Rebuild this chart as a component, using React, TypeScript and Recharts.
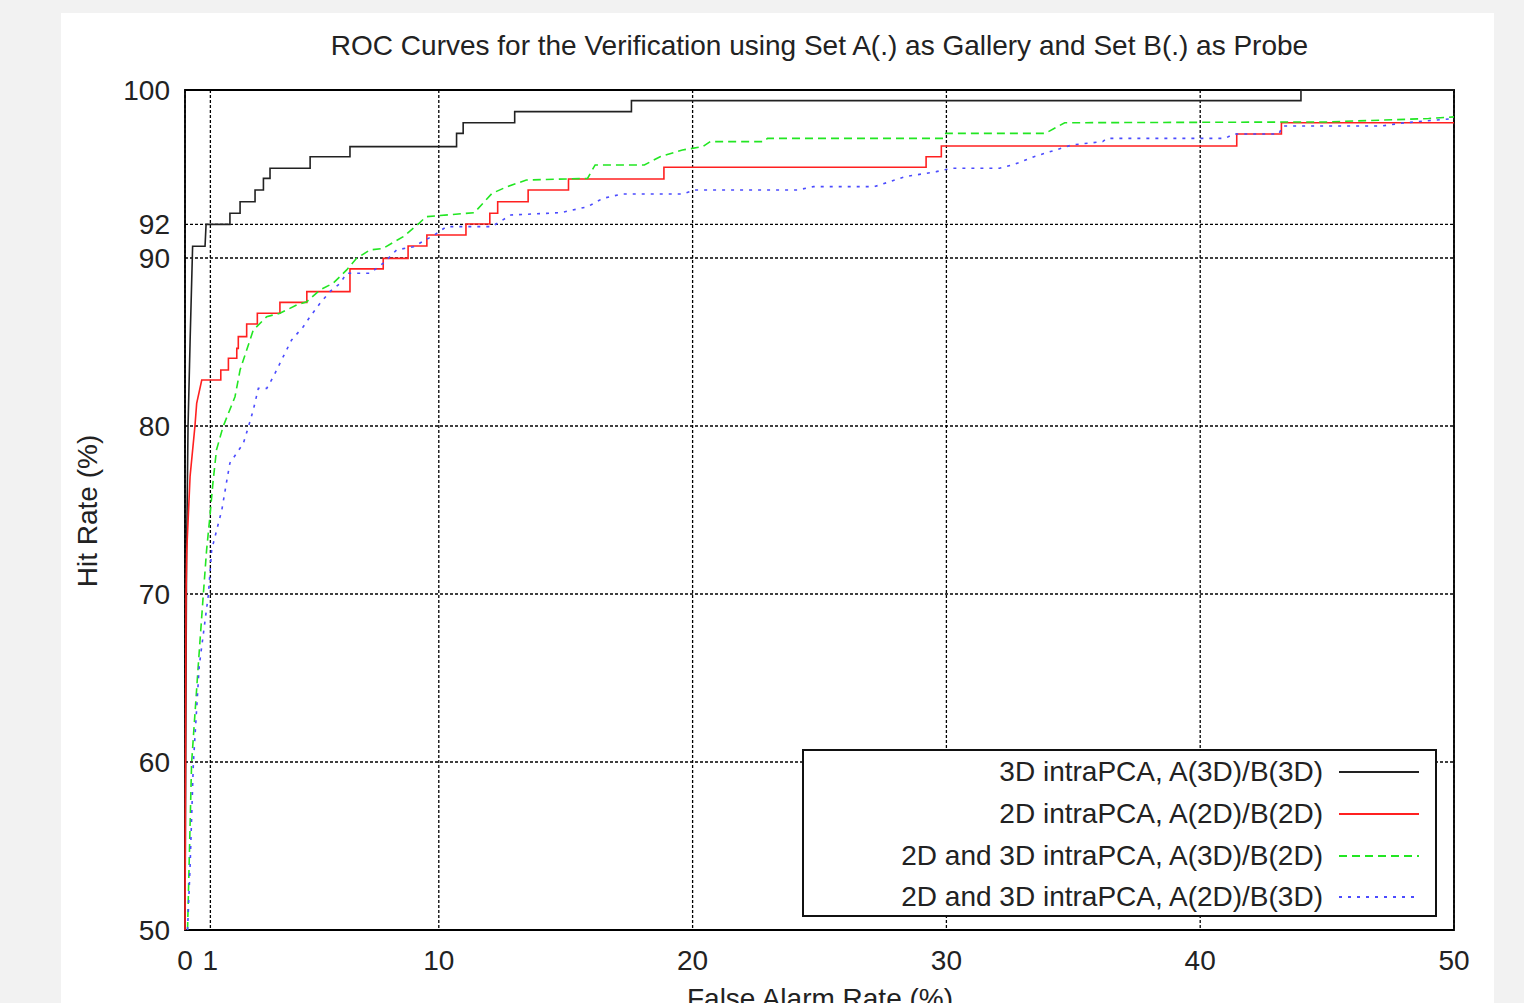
import React from 'react';
import { CartesianGrid, Line, LineChart, ReferenceArea, XAxis, YAxis } from 'recharts';

// False alarm rate (%) and hit rate (%)
const far3d = [0, 0.06, 0.12, 0.2, 0.3, 0.79, 0.83, 1.77, 1.77, 2.17, 2.17, 2.76, 2.76, 3.09, 3.09, 3.35, 3.35, 4.93, 4.93, 6.5, 6.5, 10.7, 10.7, 10.96, 10.96, 12.99, 12.99, 17.59, 17.59, 43.97, 43.97, 50];
const hit3d = [50, 72, 80, 85, 90.7, 90.7, 92, 92, 92.66, 92.66, 93.35, 93.35, 94.05, 94.05, 94.74, 94.74, 95.34, 95.34, 96.03, 96.03, 96.63, 96.63, 97.42, 97.42, 98.05, 98.05, 98.71, 98.71, 99.37, 99.37, 100, 100];

const far2d = [0, 0.04, 0.07, 0.2, 0.39, 0.46, 0.66, 1.41, 1.41, 1.71, 1.71, 2.04, 2.04, 2.1, 2.1, 2.43, 2.43, 2.85, 2.85, 3.74, 3.74, 4.8, 4.8, 6.5, 6.5, 7.81, 7.81, 8.79, 8.79, 9.53, 9.53, 11.07, 11.07, 12.01, 12.01, 12.32, 12.32, 13.52, 13.52, 15.11, 15.11, 18.87, 18.87, 29.2, 29.2, 29.8, 29.8, 41.44, 41.44, 43.2, 43.2, 50];
const hit2d = [50, 70, 72.6, 77, 79.96, 81.35, 82.74, 82.74, 83.33, 83.33, 84.03, 84.03, 84.62, 84.62, 85.32, 85.32, 86.07, 86.07, 86.71, 86.71, 87.36, 87.36, 88.0, 88.0, 89.35, 89.35, 89.98, 89.98, 90.71, 90.71, 91.37, 91.37, 92.02, 92.02, 92.66, 92.66, 93.35, 93.35, 94.05, 94.05, 94.7, 94.7, 95.4, 95.4, 96.03, 96.03, 96.67, 96.67, 97.38, 97.38, 98.05, 98.05];

const farMixA = [0.1, 0.26, 0.52, 0.72, 0.85, 0.98, 1.1, 1.24, 1.5, 1.97, 2.17, 2.43, 2.69, 3.22, 3.74, 4.4, 4.8, 5.32, 5.84, 6.37, 6.76, 7.29, 7.8, 8.6, 9.19, 9.5, 11.4, 12.1, 12.7, 13.45, 15.86, 16.16, 18.1, 18.72, 19.6, 20.4, 20.7, 22.8, 22.95, 29.88, 29.98, 33.9, 34.66, 45, 49, 50];
const hitMixA = [50, 59.94, 65.7, 69.94, 72.6, 74.6, 76.6, 78.57, 79.96, 81.74, 83.33, 84.52, 85.71, 86.51, 86.71, 87.2, 87.4, 88.1, 88.5, 89.29, 89.98, 90.48, 90.57, 91.27, 92.02, 92.46, 92.7, 93.85, 94.25, 94.64, 94.74, 95.54, 95.54, 96.03, 96.43, 96.63, 96.93, 96.93, 97.12, 97.12, 97.42, 97.42, 98.05, 98.1, 98.3, 98.4];

const farMixB = [0.1, 0.2, 0.33, 0.56, 0.92, 1.05, 1.45, 1.63, 1.77, 2.3, 2.5, 2.69, 2.89, 3.22, 3.48, 3.74, 4.0, 4.2, 4.66, 4.93, 5.32, 5.71, 6.11, 6.37, 7.29, 7.8, 8.34, 9.0, 9.83, 10.3, 12.09, 12.84, 14.8, 15.86, 16.46, 17.22, 19.6, 20.08, 24.15, 24.76, 27.17, 28.38, 29.6, 30.2, 32.09, 32.69, 33.45, 34.95, 36.16, 36.32, 40.99, 41.3, 43.1, 43.25, 47.17, 48.07, 50];
const hitMixB = [50, 53.77, 59.94, 65.7, 69.94, 72.62, 75, 76.6, 77.8, 78.97, 79.96, 80.95, 82.24, 82.24, 82.93, 83.73, 84.52, 85.12, 85.91, 86.51, 87.3, 88.0, 88.49, 89.09, 89.09, 89.68, 90.48, 90.67, 91.37, 91.87, 91.87, 92.56, 92.7, 93.05, 93.55, 93.81, 93.81, 94.05, 94.05, 94.25, 94.25, 94.84, 95.14, 95.34, 95.34, 95.58, 96.03, 96.73, 96.93, 97.12, 97.12, 97.38, 97.38, 97.86, 97.86, 98.05, 98.3];

const xTicks = [0, 1, 10, 20, 30, 40, 50];
const yTicks = [50, 60, 70, 80, 90, 92, 100];

const toPoints = (far: number[], hit: number[]) => far.map((f, i) => ({ far: f, hit: hit[i] }));

const series = [
    { name: '3D intraPCA, A(3D)/B(3D)', data: toPoints(far3d, hit3d), color: '#222222', dash: undefined },
    { name: '2D intraPCA, A(2D)/B(2D)', data: toPoints(far2d, hit2d), color: '#ff2020', dash: undefined },
    { name: '2D and 3D intraPCA, A(3D)/B(2D)', data: toPoints(farMixA, hitMixA), color: '#22e622', dash: '8 5' },
    { name: '2D and 3D intraPCA, A(2D)/B(3D)', data: toPoints(farMixB, hitMixB), color: '#4b4bff', dash: '3 6' }
];

const font = '"Liberation Sans", Arial, sans-serif';

const App: React.FC = () => {
    return (
        <div style={{ position: 'absolute', left: 0, top: 0, width: 1524, height: 1003, background: '#f2f2f2', overflow: 'hidden', fontFamily: font }}>
            <div style={{ position: 'absolute', left: 61, top: 13, width: 1433, height: 1000, background: '#ffffff' }} />

            <div style={{ position: 'absolute', left: 185, width: 1269, top: 30, textAlign: 'center', fontSize: 28, color: '#222', whiteSpace: 'nowrap' }}>
                ROC Curves for the Verification using Set A(.) as Gallery and Set B(.) as Probe
            </div>

            <div style={{ position: 'absolute', left: 0, top: 0 }}>
                <LineChart width={1524} height={1003} margin={{ top: 90, right: 70, bottom: 23, left: 75 }}>
                    <CartesianGrid stroke="#000" strokeDasharray="3 2" strokeWidth={1.3} />
                    <XAxis
                        dataKey="far"
                        type="number"
                        domain={[0, 50]}
                        ticks={xTicks}
                        allowDuplicatedCategory={false}
                        axisLine={false}
                        tickLine={false}
                        tickSize={0}
                        tickMargin={20}
                        height={50}
                        interval={0}
                        tick={{ fill: '#222', fontSize: 28, fontFamily: font }}
                    />
                    <YAxis
                        type="number"
                        domain={[50, 100]}
                        ticks={yTicks}
                        axisLine={false}
                        tickLine={false}
                        tickSize={0}
                        tickMargin={15}
                        width={110}
                        interval={0}
                        tick={{ fill: '#222', fontSize: 28, fontFamily: font }}
                    />
                    <ReferenceArea x1={0} x2={50} y1={50} y2={100} fill="none" stroke="#000" strokeWidth={1.8} />
                    {series.map((s) => (
                        <Line
                            key={s.name}
                            data={s.data}
                            dataKey="hit"
                            name={s.name}
                            type="linear"
                            stroke={s.color}
                            strokeWidth={1.6}
                            strokeDasharray={s.dash}
                            dot={false}
                            activeDot={false}
                            isAnimationActive={false}
                        />
                    ))}
                </LineChart>
            </div>

            <div style={{ position: 'absolute', left: 88, top: 511, transform: 'translate(-50%, -50%) rotate(-90deg)', fontSize: 28, color: '#222', whiteSpace: 'nowrap' }}>
                Hit Rate (%)
            </div>
            <div style={{ position: 'absolute', left: 820, top: 983, transform: 'translateX(-50%)', fontSize: 28, color: '#222', whiteSpace: 'nowrap' }}>
                False Alarm Rate (%)
            </div>

            <div style={{ position: 'absolute', left: 802, top: 749, width: 635, height: 168, boxSizing: 'border-box', border: '2px solid #111', background: '#fff' }}>
                {series.map((s, i) => (
                    <div key={s.name} style={{ position: 'absolute', right: 0, top: 21 + i * 41.8 - 18, height: 36, display: 'flex', alignItems: 'center', fontSize: 28, color: '#222', whiteSpace: 'nowrap' }}>
                        <span>{s.name}</span>
                        <svg width={80} height={6} style={{ marginLeft: 16, marginRight: 16 }}>
                            <line x1={0} y1={3} x2={80} y2={3} stroke={s.color} strokeWidth={2} strokeDasharray={s.dash} />
                        </svg>
                    </div>
                ))}
            </div>
        </div>
    );
};

export default App;
